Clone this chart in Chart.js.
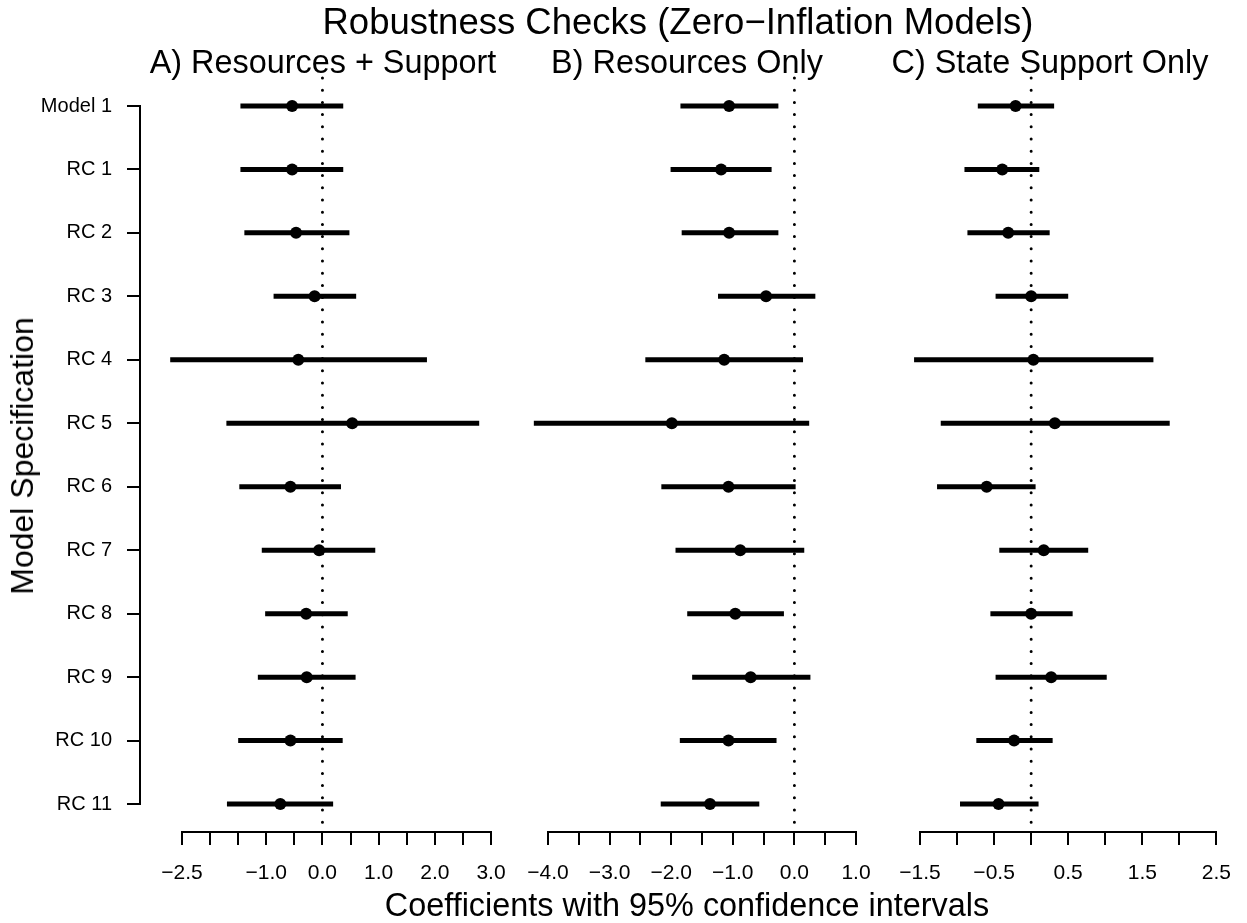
<!DOCTYPE html>
<html lang="en">
<head>
  <meta charset="UTF-8">
  <title>Robustness Checks (Zero−Inflation Models)</title>
  <script src="https://cdn.jsdelivr.net/npm/chart.js"></script>
  <style>
    body {
      margin: 0;
      background: #fff;
      font-family: 'Liberation Sans', Arial, sans-serif;
      color: #000;
    }
    .wrap {
      position: relative;
      width: 1247px;
      height: 923px;
      overflow: hidden;
    }
    canvas {
      position: absolute;
      left: 0;
      top: 0;
    }
    .txt {
      position: absolute;
      white-space: nowrap;
      line-height: 1;
      font-size: 32px;
      transform: translateX(-50%);
    }
    .ytitle {
      position: absolute;
      white-space: nowrap;
      line-height: 1;
      font-size: 32px;
      transform: translate(-50%, -50%) rotate(-90deg);
    }
  </style>
</head>
<body>
  <div class="wrap">
    <canvas id="yaxis" width="1247" height="923"></canvas>
    <canvas id="panelA" width="1247" height="923"></canvas>
    <canvas id="panelB" width="1247" height="923"></canvas>
    <canvas id="panelC" width="1247" height="923"></canvas>

    <div class="txt" style="left:678px; top:4px; font-size:36.5px;">Robustness Checks (Zero−Inflation Models)</div>
    <div class="txt" style="left:323px; top:46px; font-size:32.4px;">A) Resources + Support</div>
    <div class="txt" style="left:687px; top:46px; font-size:32.4px;">B) Resources Only</div>
    <div class="txt" style="left:1050px; top:46px; font-size:32.4px;">C) State Support Only</div>
    <div class="txt" style="left:687px; top:889px; font-size:32.4px;">Coefficients with 95% confidence intervals</div>
    <div class="ytitle" style="left:22px; top:456px;">Model Specification</div>
  </div>

  <script>
    const rowLabels = ['Model 1', 'RC 1', 'RC 2', 'RC 3', 'RC 4', 'RC 5', 'RC 6', 'RC 7', 'RC 8', 'RC 9', 'RC 10', 'RC 11'];

    // A) Resources + Support
    const estA = [-0.54, -0.54, -0.47, -0.14, -0.43, 0.53, -0.57, -0.06, -0.29, -0.28, -0.57, -0.75];
    const loA = [-1.46, -1.46, -1.39, -0.87, -2.71, -1.71, -1.48, -1.08, -1.02, -1.15, -1.50, -1.70];
    const hiA = [0.37, 0.37, 0.48, 0.60, 1.86, 2.79, 0.33, 0.94, 0.45, 0.59, 0.36, 0.19];
    const tickLabelsA = [-2.5, -1.0, 0.0, 1.0, 2.0, 3.0];

    // B) Resources Only
    const estB = [-1.06, -1.19, -1.06, -0.46, -1.14, -1.99, -1.07, -0.88, -0.96, -0.71, -1.07, -1.37];
    const loB = [-1.85, -2.01, -1.83, -1.24, -2.42, -4.23, -2.16, -1.93, -1.74, -1.66, -1.86, -2.17];
    const hiB = [-0.26, -0.37, -0.26, 0.34, 0.14, 0.24, 0.02, 0.16, -0.17, 0.26, -0.29, -0.57];
    const tickLabelsB = [-4.0, -3.0, -2.0, -1.0, 0.0, 1.0];

    // C) State Support Only
    const estC = [-0.21, -0.39, -0.31, 0.00, 0.03, 0.32, -0.60, 0.17, 0.00, 0.27, -0.23, -0.44];
    const loC = [-0.72, -0.90, -0.86, -0.48, -1.58, -1.22, -1.27, -0.43, -0.55, -0.48, -0.74, -0.96];
    const hiC = [0.31, 0.11, 0.25, 0.50, 1.65, 1.87, 0.06, 0.77, 0.56, 1.02, 0.29, 0.10];
    const tickLabelsC = [-1.5, -0.5, 0.5, 1.5, 2.5];

    const W = 1247;
    const fontFamily = "'Liberation Sans', Arial, sans-serif";

    function fmt(v) {
      const s = Math.abs(v).toFixed(1);
      return v < -1e-9 ? '\u2212' + s : s;
    }

    // shared y axis with row labels
    new Chart(document.getElementById('yaxis'), {
      type: 'scatter',
      data: { datasets: [] },
      options: {
        responsive: false,
        animation: false,
        layout: { padding: { left: 40, right: W - 142, top: 106, bottom: 119 } },
        plugins: { legend: { display: false }, tooltip: { enabled: false } },
        scales: {
          x: { display: false, min: 0, max: 1 },
          y: {
            type: 'linear',
            min: 1,
            max: 12,
            reverse: true,
            afterFit: (scale) => { scale.width = 100; },
            border: { display: true, color: '#000', width: 2 },
            grid: { drawOnChartArea: false, drawTicks: true, tickLength: 13, color: '#000', lineWidth: 2 },
            ticks: {
              stepSize: 1,
              autoSkip: false,
              padding: 15,
              color: '#000',
              font: { family: fontFamily, size: 20 },
              callback: (v) => rowLabels[v - 1]
            }
          }
        }
      }
    });

    function makePanel(id, est, lo, hi, min, max, tickLabels, left, right) {
      const datasets = [];
      datasets.push({
        data: [{ x: 0, y: 0.56 }, { x: 0, y: 12.44 }],
        showLine: true,
        borderColor: '#000',
        borderWidth: 3,
        borderDash: [0, 12.2],
        borderCapStyle: 'round',
        pointRadius: 0,
        clip: false,
        order: 3
      });
      rowLabels.forEach((_, i) => {
        datasets.push({
          data: [{ x: lo[i], y: i + 1 }, { x: hi[i], y: i + 1 }],
          showLine: true,
          borderColor: '#000',
          borderWidth: 5,
          borderCapStyle: 'butt',
          pointRadius: 0,
          clip: false,
          order: 2
        });
      });
      datasets.push({
        data: est.map((v, i) => ({ x: v, y: i + 1 })),
        pointRadius: 6,
        pointBackgroundColor: '#000',
        pointBorderWidth: 0,
        clip: false,
        order: 1
      });

      new Chart(document.getElementById(id), {
        type: 'scatter',
        data: { datasets },
        options: {
          responsive: false,
          animation: false,
          layout: { padding: { left: left, right: W - right, top: 78, bottom: 31 } },
          plugins: { legend: { display: false }, tooltip: { enabled: false } },
          scales: {
            y: { display: false, type: 'linear', min: 0.56, max: 12.44, reverse: true },
            x: {
              type: 'linear',
              min: min,
              max: max,
              afterFit: (scale) => { scale.height = 60; },
              border: { display: true, color: '#000', width: 2 },
              grid: { drawOnChartArea: false, drawTicks: true, tickLength: 13, color: '#000', lineWidth: 2 },
              ticks: {
                stepSize: 0.5,
                autoSkip: false,
                maxRotation: 0,
                padding: 16,
                color: '#000',
                font: { family: fontFamily, size: 21 },
                callback: (v) => tickLabels.some(t => Math.abs(t - v) < 1e-6) ? fmt(v) : ''
              }
            }
          }
        }
      });
    }

    makePanel('panelA', estA, loA, hiA, -2.5, 3.0, tickLabelsA, 182, 491);
    makePanel('panelB', estB, loB, hiB, -4.0, 1.0, tickLabelsB, 548, 856);
    makePanel('panelC', estC, loC, hiC, -1.5, 2.5, tickLabelsC, 920, 1221);
  </script>
</body>
</html>
